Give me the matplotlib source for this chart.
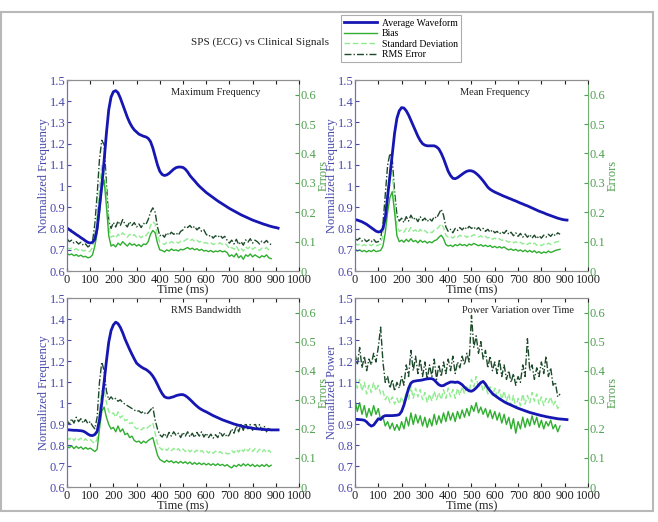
import numpy as np
import matplotlib
matplotlib.use("Agg")
import matplotlib.pyplot as plt
from matplotlib.ticker import FuncFormatter
from matplotlib.patches import Rectangle

plt.rcParams['font.family'] = ['Liberation Serif', 'DejaVu Serif']

# time grids (ms)
t_wave = np.arange(0, 920, 10)   # 0..910
t_err = np.arange(0, 890, 10)    # 0..880

titles = ["Maximum Frequency", "Mean Frequency", "RMS Bandwidth", "Power Variation over Time"]
ylabels = ["Normalized Frequency", "Normalized Frequency", "Normalized Frequency", "Normalized Power"]
legend_labels = ["Average Waveform", "Bias", "Standard Deviation", "RMS Error"]

# ---- Maximum Frequency ----
wave_max = [0.803, 0.795, 0.787, 0.780, 0.772, 0.765, 0.757, 0.750, 0.742, 0.735,
            0.732, 0.735, 0.750, 0.800, 0.900, 1.000, 1.120, 1.250, 1.360, 1.420,
            1.445, 1.450, 1.440, 1.415, 1.385, 1.355, 1.325, 1.300, 1.280, 1.265,
            1.255, 1.245, 1.240, 1.235, 1.232, 1.225, 1.210, 1.180, 1.140, 1.100,
            1.070, 1.055, 1.050, 1.053, 1.060, 1.070, 1.080, 1.087, 1.090, 1.090,
            1.088, 1.080, 1.067, 1.050, 1.037, 1.025, 1.012, 1.000, 0.990, 0.980,
            0.970, 0.962, 0.954, 0.946, 0.938, 0.930, 0.923, 0.916, 0.909, 0.902,
            0.895, 0.889, 0.883, 0.877, 0.871, 0.865, 0.860, 0.855, 0.850, 0.845,
            0.840, 0.836, 0.832, 0.828, 0.824, 0.820, 0.817, 0.813, 0.810, 0.807,
            0.805, 0.802]
bias_max = [.060, .055, .058, .052, .056, .050, .054, .048, .050, .045,
            .047, .055, .085, .130, .200, .280, .310, .220, .120, .085,
            .090, .082, .095, .088, .100, .092, .085, .095, .088, .092,
            .085, .090, .083, .092, .090, .100, .125, .138, .130, .095,
            .072, .070, .065, .072, .068, .075, .070, .072, .068, .074,
            .072, .076, .080, .074, .078, .072, .076, .070, .074, .068,
            .070, .066, .070, .064, .068, .066, .070, .065, .068, .063,
            .050, .055, .048, .060, .045, .052, .040, .055, .050, .058,
            .048, .055, .050, .045, .052, .048, .055, .045, .042]
std_max = [.080, .075, .078, .072, .076, .070, .074, .068, .070, .065,
           .068, .080, .120, .190, .280, .360, .370, .270, .150, .115,
           .120, .112, .125, .118, .130, .122, .115, .125, .118, .124,
           .115, .120, .113, .122, .120, .130, .155, .168, .160, .120,
           .098, .095, .090, .098, .094, .100, .096, .100, .095, .102,
           .100, .105, .110, .103, .108, .100, .105, .098, .102, .095,
           .097, .092, .096, .090, .094, .092, .096, .090, .094, .088,
           .075, .080, .074, .085, .070, .078, .068, .082, .076, .084,
           .074, .080, .076, .070, .078, .074, .080, .072, .070]
rms_max = [.110, .100, .105, .095, .100, .092, .098, .088, .092, .082,
           .088, .100, .160, .260, .380, .445, .430, .300, .170, .145,
           .165, .150, .170, .155, .175, .160, .150, .168, .155, .165,
           .150, .160, .148, .162, .158, .175, .200, .215, .200, .150,
           .120, .125, .115, .130, .122, .132, .125, .130, .122, .135,
           .140, .152, .148, .155, .145, .152, .140, .148, .135, .140,
           .125, .118, .122, .112, .120, .115, .122, .112, .118, .105,
           .095, .105, .092, .108, .090, .100, .088, .106, .098, .110,
           .095, .105, .100, .092, .102, .096, .104, .094, .090]

# ---- Mean Frequency ----
wave_mean = [0.842, 0.840, 0.836, 0.832, 0.826, 0.820, 0.812, 0.804, 0.796, 0.788,
             0.784, 0.786, 0.800, 0.850, 0.950, 1.050, 1.150, 1.250, 1.320, 1.355,
             1.370, 1.368, 1.355, 1.335, 1.310, 1.285, 1.260, 1.235, 1.215, 1.200,
             1.193, 1.190, 1.190, 1.190, 1.190, 1.185, 1.175, 1.155, 1.130, 1.100,
             1.070, 1.050, 1.037, 1.035, 1.040, 1.048, 1.056, 1.064, 1.070, 1.073,
             1.072, 1.068, 1.060, 1.050, 1.038, 1.025, 1.010, 0.995, 0.985, 0.978,
             0.972, 0.967, 0.962, 0.957, 0.952, 0.948, 0.943, 0.939, 0.934, 0.930,
             0.925, 0.920, 0.916, 0.911, 0.907, 0.902, 0.897, 0.892, 0.887, 0.882,
             0.878, 0.874, 0.869, 0.865, 0.861, 0.857, 0.853, 0.849, 0.846, 0.843,
             0.841, 0.840]
bias_mean = [.075, .068, .072, .066, .070, .065, .070, .066, .072, .066,
             .068, .070, .085, .130, .200, .250, .270, .200, .120, .100,
             .105, .098, .108, .100, .110, .100, .104, .096, .105, .098,
             .102, .095, .100, .096, .103, .106, .115, .122, .110, .090,
             .085, .088, .083, .090, .086, .092, .087, .090, .085, .092,
             .088, .094, .090, .086, .090, .084, .088, .083, .087, .080,
             .084, .079, .083, .078, .082, .076, .072, .075, .070, .074,
             .068, .072, .066, .071, .065, .070, .064, .069, .062, .066,
             .060, .065, .062, .068, .063, .066, .070, .072, .074]
std_mean = [.095, .088, .092, .086, .090, .085, .090, .086, .092, .086,
            .088, .092, .120, .190, .280, .330, .330, .240, .155, .135,
            .140, .132, .145, .135, .148, .136, .140, .130, .142, .133,
            .138, .130, .136, .130, .140, .142, .150, .160, .148, .122,
            .115, .118, .112, .120, .115, .122, .117, .120, .114, .122,
            .118, .124, .120, .116, .120, .113, .118, .112, .116, .108,
            .112, .106, .110, .104, .108, .102, .098, .102, .096, .100,
            .094, .098, .092, .097, .090, .096, .090, .095, .088, .092,
            .086, .092, .088, .095, .090, .094, .098, .100, .102]
rms_mean = [.110, .105, .112, .102, .108, .100, .106, .100, .108, .098,
            .100, .110, .160, .260, .360, .400, .380, .270, .190, .170,
            .180, .165, .185, .170, .190, .175, .182, .168, .185, .172,
            .180, .168, .178, .170, .185, .180, .195, .210, .190, .150,
            .135, .142, .130, .145, .138, .148, .140, .150, .142, .152,
            .145, .150, .140, .148, .138, .145, .135, .142, .132, .140,
            .130, .135, .126, .134, .128, .138, .125, .132, .120, .130,
            .118, .128, .115, .126, .115, .124, .112, .122, .110, .120,
            .112, .122, .115, .125, .118, .128, .120, .130, .125]

# ---- RMS Bandwidth ----
wave_bw = [0.873, 0.872, 0.871, 0.870, 0.870, 0.869, 0.868, 0.866, 0.860, 0.852,
           0.846, 0.845, 0.850, 0.865, 0.920, 1.000, 1.100, 1.200, 1.290, 1.345,
           1.372, 1.385, 1.378, 1.360, 1.335, 1.305, 1.280, 1.255, 1.232, 1.210,
           1.190, 1.180, 1.172, 1.165, 1.160, 1.152, 1.142, 1.128, 1.110, 1.088,
           1.065, 1.045, 1.030, 1.025, 1.024, 1.027, 1.030, 1.035, 1.038, 1.040,
           1.040, 1.035, 1.027, 1.017, 1.006, 0.995, 0.985, 0.976, 0.969, 0.963,
           0.958, 0.952, 0.946, 0.940, 0.935, 0.930, 0.925, 0.920, 0.916, 0.912,
           0.908, 0.904, 0.900, 0.897, 0.894, 0.891, 0.888, 0.886, 0.884, 0.882,
           0.880, 0.878, 0.877, 0.876, 0.875, 0.874, 0.873, 0.873, 0.872, 0.872,
           0.872, 0.872]
bias_bw = [.140, .135, .142, .132, .140, .133, .138, .130, .136, .130,
           .134, .128, .122, .130, .200, .260, .275, .240, .215, .200,
           .205, .190, .210, .190, .200, .180, .185, .170, .175, .160,
           .155, .158, .150, .158, .152, .160, .165, .170, .140, .110,
           .095, .090, .085, .092, .086, .090, .083, .088, .082, .088,
           .082, .087, .080, .086, .078, .084, .078, .083, .077, .082,
           .076, .081, .075, .080, .074, .080, .074, .078, .072, .077,
           .070, .066, .075, .070, .078, .072, .080, .073, .079, .072,
           .078, .070, .076, .070, .077, .071, .078, .070, .075]
std_bw = [.170, .163, .172, .160, .170, .162, .168, .158, .166, .158,
          .163, .156, .150, .165, .260, .330, .340, .290, .260, .250,
          .255, .240, .258, .238, .245, .228, .232, .218, .222, .208,
          .200, .204, .196, .204, .198, .206, .212, .220, .185, .150,
          .135, .128, .135, .126, .134, .125, .133, .124, .132, .123,
          .131, .122, .130, .121, .128, .120, .127, .119, .126, .118,
          .125, .117, .124, .116, .123, .116, .122, .115, .120, .114,
          .115, .125, .118, .130, .120, .132, .122, .134, .124, .133,
          .122, .132, .120, .130, .120, .128, .118, .126, .118]
rms_bw = [.230, .215, .235, .220, .240, .225, .235, .220, .232, .218,
          .225, .210, .200, .240, .360, .430, .400, .330, .300, .310,
          .300, .305, .295, .300, .290, .285, .280, .275, .270, .265,
          .260, .262, .255, .260, .250, .255, .265, .275, .230, .200,
          .180, .172, .185, .170, .188, .175, .190, .178, .185, .170,
          .188, .175, .190, .172, .185, .170, .188, .175, .190, .172,
          .185, .170, .182, .168, .180, .170, .190, .175, .185, .172,
          .180, .200, .185, .210, .190, .215, .195, .220, .200, .215,
          .195, .220, .200, .215, .195, .210, .190, .205, .190]

# ---- Power Variation over Time ----
wave_pow = [0.922, 0.922, 0.921, 0.920, 0.918, 0.910, 0.898, 0.890, 0.895, 0.910,
            0.925, 0.922, 0.935, 0.940, 0.940, 0.940, 0.940, 0.941, 0.942, 0.945,
            0.960, 0.990, 1.030, 1.070, 1.095, 1.103, 1.105, 1.107, 1.108, 1.110,
            1.113, 1.115, 1.116, 1.116, 1.110, 1.098, 1.087, 1.082, 1.083, 1.090,
            1.095, 1.100, 1.100, 1.098, 1.100, 1.095, 1.087, 1.075, 1.065, 1.058,
            1.056, 1.062, 1.072, 1.085, 1.097, 1.103, 1.090, 1.072, 1.058, 1.045,
            1.036, 1.028, 1.020, 1.013, 1.006, 1.000, 0.995, 0.990, 0.985, 0.980,
            0.975, 0.971, 0.967, 0.963, 0.959, 0.955, 0.952, 0.949, 0.946, 0.943,
            0.940, 0.938, 0.935, 0.933, 0.931, 0.929, 0.927, 0.925, 0.924, 0.923,
            0.922, 0.921]
bias_pow = [.300, .260, .290, .250, .280, .240, .270, .245, .280, .250,
            .270, .230, .240, .210, .225, .200, .220, .195, .215, .195,
            .225, .200, .240, .210, .255, .215, .250, .220, .245, .210,
            .240, .205, .235, .210, .250, .215, .245, .220, .255, .225,
            .260, .230, .255, .225, .260, .235, .265, .240, .270, .245,
            .280, .260, .290, .255, .275, .250, .270, .240, .265, .235,
            .260, .230, .255, .220, .250, .215, .240, .200, .235, .185,
            .225, .200, .240, .205, .235, .210, .245, .215, .240, .205,
            .230, .200, .225, .210, .230, .200, .215, .190, .210]
std_pow = [.380, .340, .370, .330, .360, .320, .350, .325, .360, .330,
           .350, .320, .330, .300, .315, .290, .310, .285, .305, .285,
           .310, .290, .330, .300, .345, .305, .340, .310, .335, .300,
           .325, .290, .320, .295, .330, .300, .325, .300, .335, .305,
           .340, .310, .335, .305, .340, .315, .345, .320, .350, .325,
           .370, .345, .380, .340, .360, .330, .350, .320, .345, .315,
           .340, .310, .335, .300, .330, .295, .320, .280, .315, .270,
           .305, .280, .320, .285, .315, .290, .325, .295, .320, .285,
           .310, .280, .305, .290, .310, .280, .295, .270, .285]
rms_pow = [.460, .420, .480, .410, .450, .400, .440, .420, .460, .430,
           .480, .550, .430, .360, .380, .340, .370, .330, .360, .340,
           .380, .350, .420, .380, .470, .400, .450, .390, .440, .380,
           .430, .370, .420, .380, .440, .370, .420, .380, .430, .390,
           .440, .400, .450, .390, .430, .410, .450, .420, .460, .430,
           .590, .480, .520, .460, .500, .440, .470, .410, .450, .400,
           .430, .390, .440, .380, .420, .370, .400, .360, .390, .350,
           .380, .360, .420, .380, .510, .400, .420, .370, .410, .380,
           .430, .390, .450, .380, .410, .350, .360, .310, .320]

waves = [wave_max, wave_mean, wave_bw, wave_pow]
biases = [bias_max, bias_mean, bias_bw, bias_pow]
stds = [std_max, std_mean, std_bw, std_pow]
rmss = [rms_max, rms_mean, rms_bw, rms_pow]

BLUE = '#1616b2'
BIAS_C = '#2fae2f'
STD_C = '#90ec90'
RMS_C = '#1d4a2a'
LEFT_TXT = '#4848aa'
RIGHT_TXT = '#4f9f4f'

fig = plt.figure(figsize=(6.58, 5.22), dpi=100)
fig.patch.set_facecolor('white')
fig.patches.append(Rectangle((1 / 658, 1 - 511 / 522), 652 / 658, 499 / 522,
                             transform=fig.transFigure, fill=False,
                             edgecolor='#b8b8b8', lw=1.5))

# axes positions [left, bottom, width, height]
positions = [[0.1018, 0.4808, 0.3526, 0.3659],
             [0.5395, 0.4808, 0.3541, 0.3659],
             [0.1018, 0.0670, 0.3526, 0.3621],
             [0.5395, 0.0670, 0.3541, 0.3621]]
title_x = [0.64, 0.60, 0.60, 0.70]

fmt = FuncFormatter(lambda v, p: '%g' % round(v, 2))
handles = None
for i in range(4):
    ax = fig.add_axes(positions[i])
    ax2 = ax.twinx()
    ax.set_zorder(2)
    ax.patch.set_visible(False)

    e3, = ax2.plot(t_err, rmss[i], color=RMS_C, lw=1.0, ls='-.', dashes=(5, 1.5, 1, 1.5))
    e2, = ax2.plot(t_err, stds[i], color=STD_C, lw=1.0, ls='--', dashes=(4, 2))
    e1, = ax2.plot(t_err, biases[i], color=BIAS_C, lw=1.0)
    w, = ax.plot(t_wave, waves[i], color=BLUE, lw=2.0)
    if handles is None:
        handles = [w, e1, e2, e3]

    ax.set_xlim(0, 1000)
    ax.set_ylim(0.6, 1.5)
    ax2.set_ylim(0, 0.65)
    ax.set_xticks(np.arange(0, 1001, 100))
    ax.set_yticks(np.arange(0.6, 1.51, 0.1))
    ax2.set_yticks(np.arange(0, 0.61, 0.1))
    ax.yaxis.set_major_formatter(fmt)
    ax2.yaxis.set_major_formatter(fmt)

    ax.tick_params(axis='x', direction='in', top=True, labelsize=9, colors='#222222', length=3, pad=2)
    ax.tick_params(axis='y', direction='in', labelsize=9, colors=LEFT_TXT, length=3, pad=1)
    ax2.tick_params(axis='y', direction='in', labelsize=9, colors=RIGHT_TXT, length=3, pad=1)
    for s in ['top', 'bottom']:
        ax.spines[s].set_color('#909090')
        ax2.spines[s].set_color('#909090')
    ax.spines['left'].set_color('#7070c0')
    ax2.spines['left'].set_color('#7070c0')
    ax2.spines['right'].set_color('#70b070')
    ax.spines['right'].set_visible(False)

    ax.set_xlabel('Time (ms)', fontsize=9, labelpad=-1, color='#222222')
    ax.set_ylabel(ylabels[i], fontsize=9, color=LEFT_TXT, labelpad=0)
    ax2.set_ylabel('Errors', fontsize=9, color=RIGHT_TXT, labelpad=1)
    ax.text(title_x[i], 0.935, titles[i], transform=ax.transAxes, ha='center',
            va='center', fontsize=7.5, color='#222222')

fig.text(260 / 658, 1 - 42 / 522, 'SPS (ECG) vs Clinical Signals', ha='center', va='center',
         fontsize=8, color='#222222')
leg = fig.legend(handles, legend_labels, loc='upper left', bbox_to_anchor=(341 / 658, 1 - 15 / 522),
                 fontsize=7, frameon=True, fancybox=False, handlelength=3.4,
                 borderpad=0.3, labelspacing=0.15, handletextpad=0.5, borderaxespad=0)
leg.get_frame().set_edgecolor('#999999')
leg.get_frame().set_linewidth(0.8)

fig.savefig('out.png', dpi=100)
